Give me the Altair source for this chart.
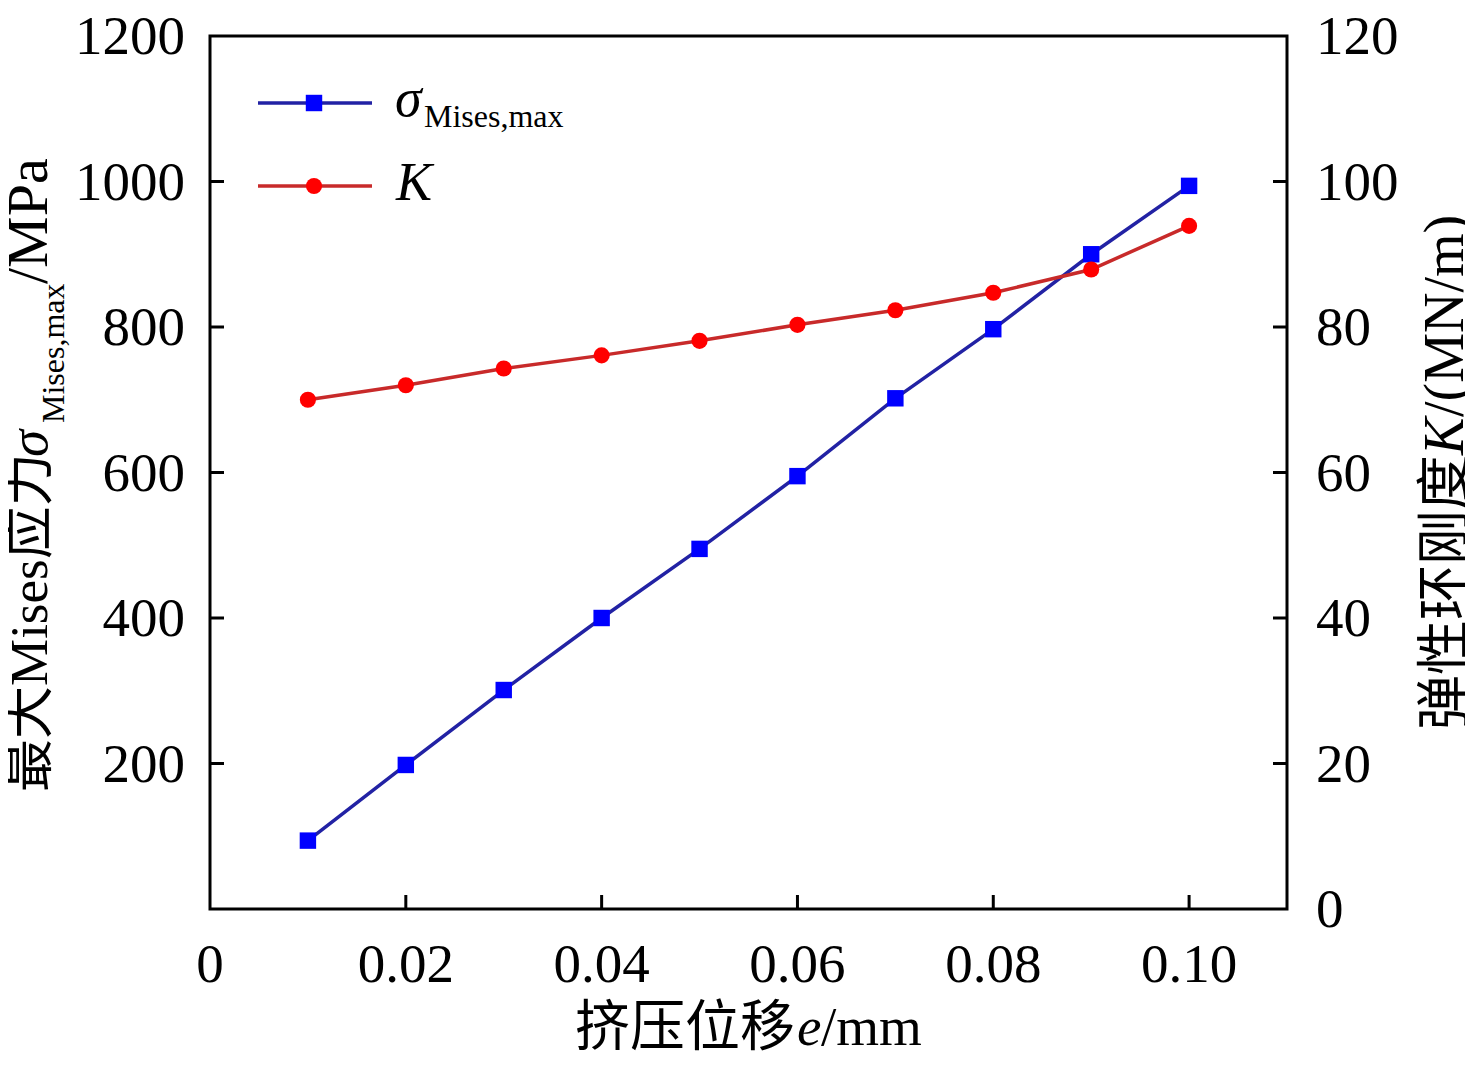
import altair as alt
import pandas as pd

# ---------------- data ----------------
e_mm = [0.01, 0.02, 0.03, 0.04, 0.05, 0.06, 0.07, 0.08, 0.09, 0.10]
sigma_mises_max = [94, 198, 301, 400, 495, 595, 702, 797, 900, 994]
stiffness_K = [70.0, 72.0, 74.3, 76.1, 78.1, 80.3, 82.3, 84.7, 87.9, 93.9]

x_tick_values = [0, 0.02, 0.04, 0.06, 0.08, 0.10]
x_tick_labels = ["0", "0.02", "0.04", "0.06", "0.08", "0.10"]
left_tick_values = [200, 400, 600, 800, 1000, 1200]
left_tick_labels = ["200", "400", "600", "800", "1000", "1200"]
right_tick_values = [0, 20, 40, 60, 80, 100, 120]
right_tick_labels = ["0", "20", "40", "60", "80", "100", "120"]

x_inner_ticks = [0.02, 0.04, 0.06, 0.08, 0.10]
left_inner_ticks = [200, 400, 600, 800, 1000]
right_inner_ticks = [20, 40, 60, 80, 100]

# ---------------- layout ----------------
W, H = 1077, 873          # plot area
OX, OY = 210, 36          # absolute position of plot origin
SERIF = "Liberation Serif, Noto Sans CJK SC"
TICK_LEN = 14
LABEL_SIZE = 55
LINE_W = 3.5
BLUE_LINE, BLUE_MARK = "#2222a4", "#0000ff"
RED_LINE, RED_MARK = "#c82a2a", "#ff0000"
SQ_SIZE, CIRC_SIZE = 270, 260

df = pd.DataFrame({"e": e_mm, "sigma": sigma_mises_max, "K": stiffness_K})

x_scale = alt.Scale(domain=[0, 0.11], nice=False, zero=False)
yl_scale = alt.Scale(domain=[0, 1200], nice=False)
yr_scale = alt.Scale(domain=[0, 120], nice=False)

XE = alt.X("e:Q", scale=x_scale, axis=None)
base = alt.Chart(df)

# ---- left-axis group (sigma) ----
sig_line = base.mark_line(color=BLUE_LINE, strokeWidth=LINE_W).encode(
    x=XE, y=alt.Y("sigma:Q", scale=yl_scale, axis=None)
)
sig_pts = base.mark_point(shape="square", filled=True, size=SQ_SIZE, color=BLUE_MARK, opacity=1).encode(
    x=XE, y=alt.Y("sigma:Q", scale=yl_scale, axis=None)
)
lt = alt.Chart(pd.DataFrame({"v": left_inner_ticks})).mark_rule(color="black", strokeWidth=3).encode(
    y=alt.Y("v:Q", scale=yl_scale, axis=None), x=alt.value(0), x2=alt.value(TICK_LEN)
)
ll = alt.Chart(pd.DataFrame({"v": left_tick_values, "lab": left_tick_labels})).mark_text(
    font=SERIF, fontSize=LABEL_SIZE, color="black", align="right", baseline="middle", dy=1
).encode(y=alt.Y("v:Q", scale=yl_scale, axis=None), x=alt.value(-25), text="lab:N")
xt = alt.Chart(pd.DataFrame({"v": x_inner_ticks})).mark_rule(color="black", strokeWidth=3).encode(
    x=alt.X("v:Q", scale=x_scale, axis=None), y=alt.value(H), y2=alt.value(H - TICK_LEN)
)
xl = alt.Chart(pd.DataFrame({"v": x_tick_values, "lab": x_tick_labels})).mark_text(
    font=SERIF, fontSize=LABEL_SIZE, color="black", align="center", baseline="alphabetic"
).encode(x=alt.X("v:Q", scale=x_scale, axis=None), y=alt.value(982 - OY), text="lab:N")
left = alt.layer(xt, xl, lt, ll, sig_line, sig_pts)

# ---- right-axis group (K) ----
k_line = base.mark_line(color=RED_LINE, strokeWidth=LINE_W).encode(
    x=XE, y=alt.Y("K:Q", scale=yr_scale, axis=None)
)
k_pts = base.mark_point(shape="circle", filled=True, size=CIRC_SIZE, color=RED_MARK, opacity=1).encode(
    x=XE, y=alt.Y("K:Q", scale=yr_scale, axis=None)
)
rt = alt.Chart(pd.DataFrame({"v": right_inner_ticks})).mark_rule(color="black", strokeWidth=3).encode(
    y=alt.Y("v:Q", scale=yr_scale, axis=None), x=alt.value(W), x2=alt.value(W - TICK_LEN)
)
rl = alt.Chart(pd.DataFrame({"v": right_tick_values, "lab": right_tick_labels})).mark_text(
    font=SERIF, fontSize=LABEL_SIZE, color="black", align="left", baseline="middle", dy=1
).encode(y=alt.Y("v:Q", scale=yr_scale, axis=None), x=alt.value(W + 29), text="lab:N")
right = alt.layer(rt, rl, k_line, k_pts)


def txt(s, ax, ay, size, italic=False, angle=0):
    """text piece anchored (baseline, left) at absolute page coords (ax, ay)"""
    kw = dict(font=SERIF, fontSize=size, color="black", align="left", baseline="alphabetic")
    if italic:
        kw["fontStyle"] = "italic"
    if angle:
        kw["angle"] = angle
    return alt.Chart(pd.DataFrame({"t": [s]})).mark_text(**kw).encode(
        text="t:N", x=alt.value(ax - OX), y=alt.value(ay - OY)
    )


# legend
leg_rows = pd.DataFrame({"row": [0]})
leg = [
    alt.Chart(leg_rows).mark_rule(color=BLUE_LINE, strokeWidth=LINE_W).encode(
        x=alt.value(258 - OX), x2=alt.value(372 - OX), y=alt.value(103 - OY)),
    alt.Chart(leg_rows).mark_point(shape="square", filled=True, size=SQ_SIZE, color=BLUE_MARK, opacity=1).encode(
        x=alt.value(314 - OX), y=alt.value(103 - OY)),
    alt.Chart(leg_rows).mark_rule(color=RED_LINE, strokeWidth=LINE_W).encode(
        x=alt.value(258 - OX), x2=alt.value(372 - OX), y=alt.value(186 - OY)),
    alt.Chart(leg_rows).mark_point(shape="circle", filled=True, size=CIRC_SIZE, color=RED_MARK, opacity=1).encode(
        x=alt.value(314 - OX), y=alt.value(186 - OY)),
    txt("σ", 395, 116, 54, italic=True),
    txt("Mises,max", 424, 127, 32),
    txt("K", 396, 200, 54, italic=True),
]

# axis titles (pieces, for italic symbols and subscripts)
titles = [
    # x title
    txt("挤压位移", 575, 1045, 55),
    txt("e", 797, 1045, 55, italic=True),
    txt("/mm", 821, 1045, 55),
    # left title, reads bottom-to-top
    txt("最大Mises应力", 47, 792, 53, angle=270),
    txt("σ", 47, 457, 55, italic=True, angle=270),
    txt("Mises,max", 64, 423, 32, angle=270),
    txt("/MPa", 47, 284, 58, angle=270),
    # right title
    txt("弹性环刚度", 1463, 730, 55, angle=270),
    txt("K", 1463, 455, 56, italic=True, angle=270),
    txt("/(MN/m)", 1463, 417, 56, angle=270),
]

chart = (
    alt.layer(left, right, *leg, *titles)
    .resolve_scale(y="independent")
    .properties(
        width=W, height=H,
        padding={"left": OX - 8, "top": OY - 8, "right": 178, "bottom": 152},
        autosize=alt.AutoSizeParams(type="none"),
        background="white",
    )
    .configure_view(stroke="black", strokeWidth=3)
)

chart.save("out.html", embed_options={"renderer": "svg", "actions": False})
